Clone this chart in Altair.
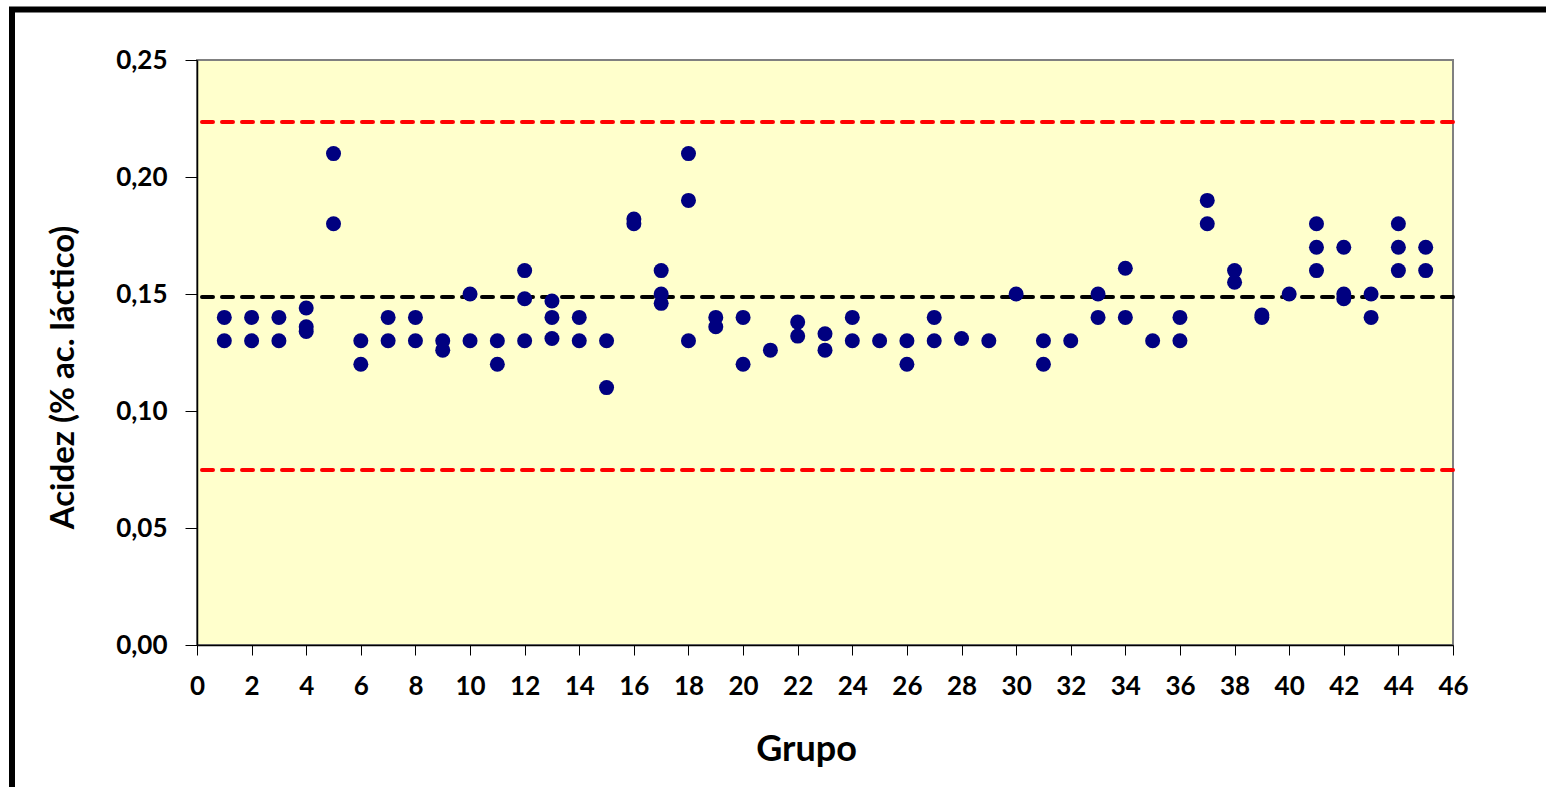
import altair as alt
import pandas as pd

# Acidez por grupo (% ác. láctico)
grupos = [1, 2, 3, 4, 5, 6, 7, 8, 9, 10, 11, 12, 13, 14, 15, 16, 17, 18, 19, 20, 21, 22, 23,
          24, 25, 26, 27, 28, 29, 30, 31, 32, 33, 34, 35, 36, 37, 38, 39, 40, 41, 42, 43, 44, 45]
valores = [
    [0.14, 0.13], [0.14, 0.13], [0.14, 0.13], [0.144, 0.136, 0.134], [0.21, 0.18],
    [0.13, 0.12], [0.14, 0.13], [0.14, 0.13], [0.13, 0.126], [0.15, 0.13],
    [0.13, 0.12], [0.16, 0.148, 0.13], [0.147, 0.14, 0.131], [0.14, 0.13], [0.13, 0.11],
    [0.182, 0.18], [0.16, 0.15, 0.146], [0.21, 0.19, 0.13], [0.14, 0.136], [0.14, 0.12],
    [0.126], [0.138, 0.132], [0.133, 0.126], [0.14, 0.13], [0.13],
    [0.13, 0.12], [0.14, 0.13], [0.131], [0.13], [0.15],
    [0.13, 0.12], [0.13], [0.15, 0.14], [0.161, 0.14], [0.13],
    [0.14, 0.13], [0.19, 0.18], [0.16, 0.155], [0.141, 0.14], [0.15],
    [0.18, 0.17, 0.16], [0.17, 0.15, 0.148], [0.15, 0.14], [0.18, 0.17, 0.16], [0.17, 0.16],
]
media = 0.1487
limites = [0.2235, 0.0748]

x_ticks = list(range(0, 47, 2))
y_ticks = [0.0, 0.05, 0.10, 0.15, 0.20, 0.25]

rows = [{"Grupo": g, "Acidez": v} for g, vs in zip(grupos, valores) for v in vs]
df = pd.DataFrame(rows)

FONT = "Lato"

x_enc = alt.X("Grupo:Q",
              scale=alt.Scale(domain=[0, 46], nice=False, zero=True),
              axis=alt.Axis(values=x_ticks, format="d", title="Grupo",
                            labelFont=FONT, labelFontWeight="bold", labelFontSize=26,
                            labelColor="black", labelPadding=18, tickSize=10,
                            tickColor="black", domainColor="black", domainWidth=1.5,
                            grid=False, labelFlush=False,
                            titleFont=FONT, titleFontWeight="bold", titleFontSize=36,
                            titleColor="black", titleX=609, titleY=115,
                            titleBaseline="alphabetic", titleAlign="center"))
y_enc = alt.Y("Acidez:Q",
              scale=alt.Scale(domain=[0, 0.25], nice=False),
              axis=alt.Axis(values=y_ticks,
                            labelExpr="replace(format(datum.value, '.2f'), '.', ',')",
                            title="Acidez (% ac. láctico)",
                            labelFont=FONT, labelFontWeight="bold", labelFontSize=26,
                            labelColor="black", labelPadding=18, tickSize=12,
                            tickColor="black", domainColor="black", domainWidth=1.5,
                            grid=False, labelFlush=False,
                            titleFont=FONT, titleFontWeight="bold", titleFontSize=33,
                            titleColor="black", titleAngle=270, titleX=-134, titleY=317,
                            titleAlign="center", titleBaseline="middle"))

points = alt.Chart(df).mark_circle(size=225, color="#000080", opacity=1).encode(x=x_enc, y=y_enc)

lim_df = pd.DataFrame({"y": limites})
red = alt.Chart(lim_df).mark_rule(color="#FF0000", strokeWidth=4, strokeDash=[11, 9],
                                  strokeCap="round").encode(y="y:Q")
mean_df = pd.DataFrame({"y": [media]})
black = alt.Chart(mean_df).mark_rule(color="black", strokeWidth=4, strokeDash=[11, 9],
                                     strokeCap="round").encode(y="y:Q")

frame = alt.Chart(pd.DataFrame({"a": [0]})).mark_rect(
    filled=False, stroke="black", strokeWidth=6, clip=False
).encode(x=alt.value(-185), x2=alt.value(1500), y=alt.value(-50.5), y2=alt.value(800))

chart = alt.layer(red, black, points, frame).properties(
    width=1256, height=585,
    autosize=alt.AutoSizeParams(type="none"),
    padding={"left": 197, "top": 60, "right": 93, "bottom": 142},
    background="white",
).configure_view(fill="#FFFFCC", stroke="#808080", strokeWidth=2)

chart.save("out.html", embed_options={"renderer": "svg", "actions": False})
